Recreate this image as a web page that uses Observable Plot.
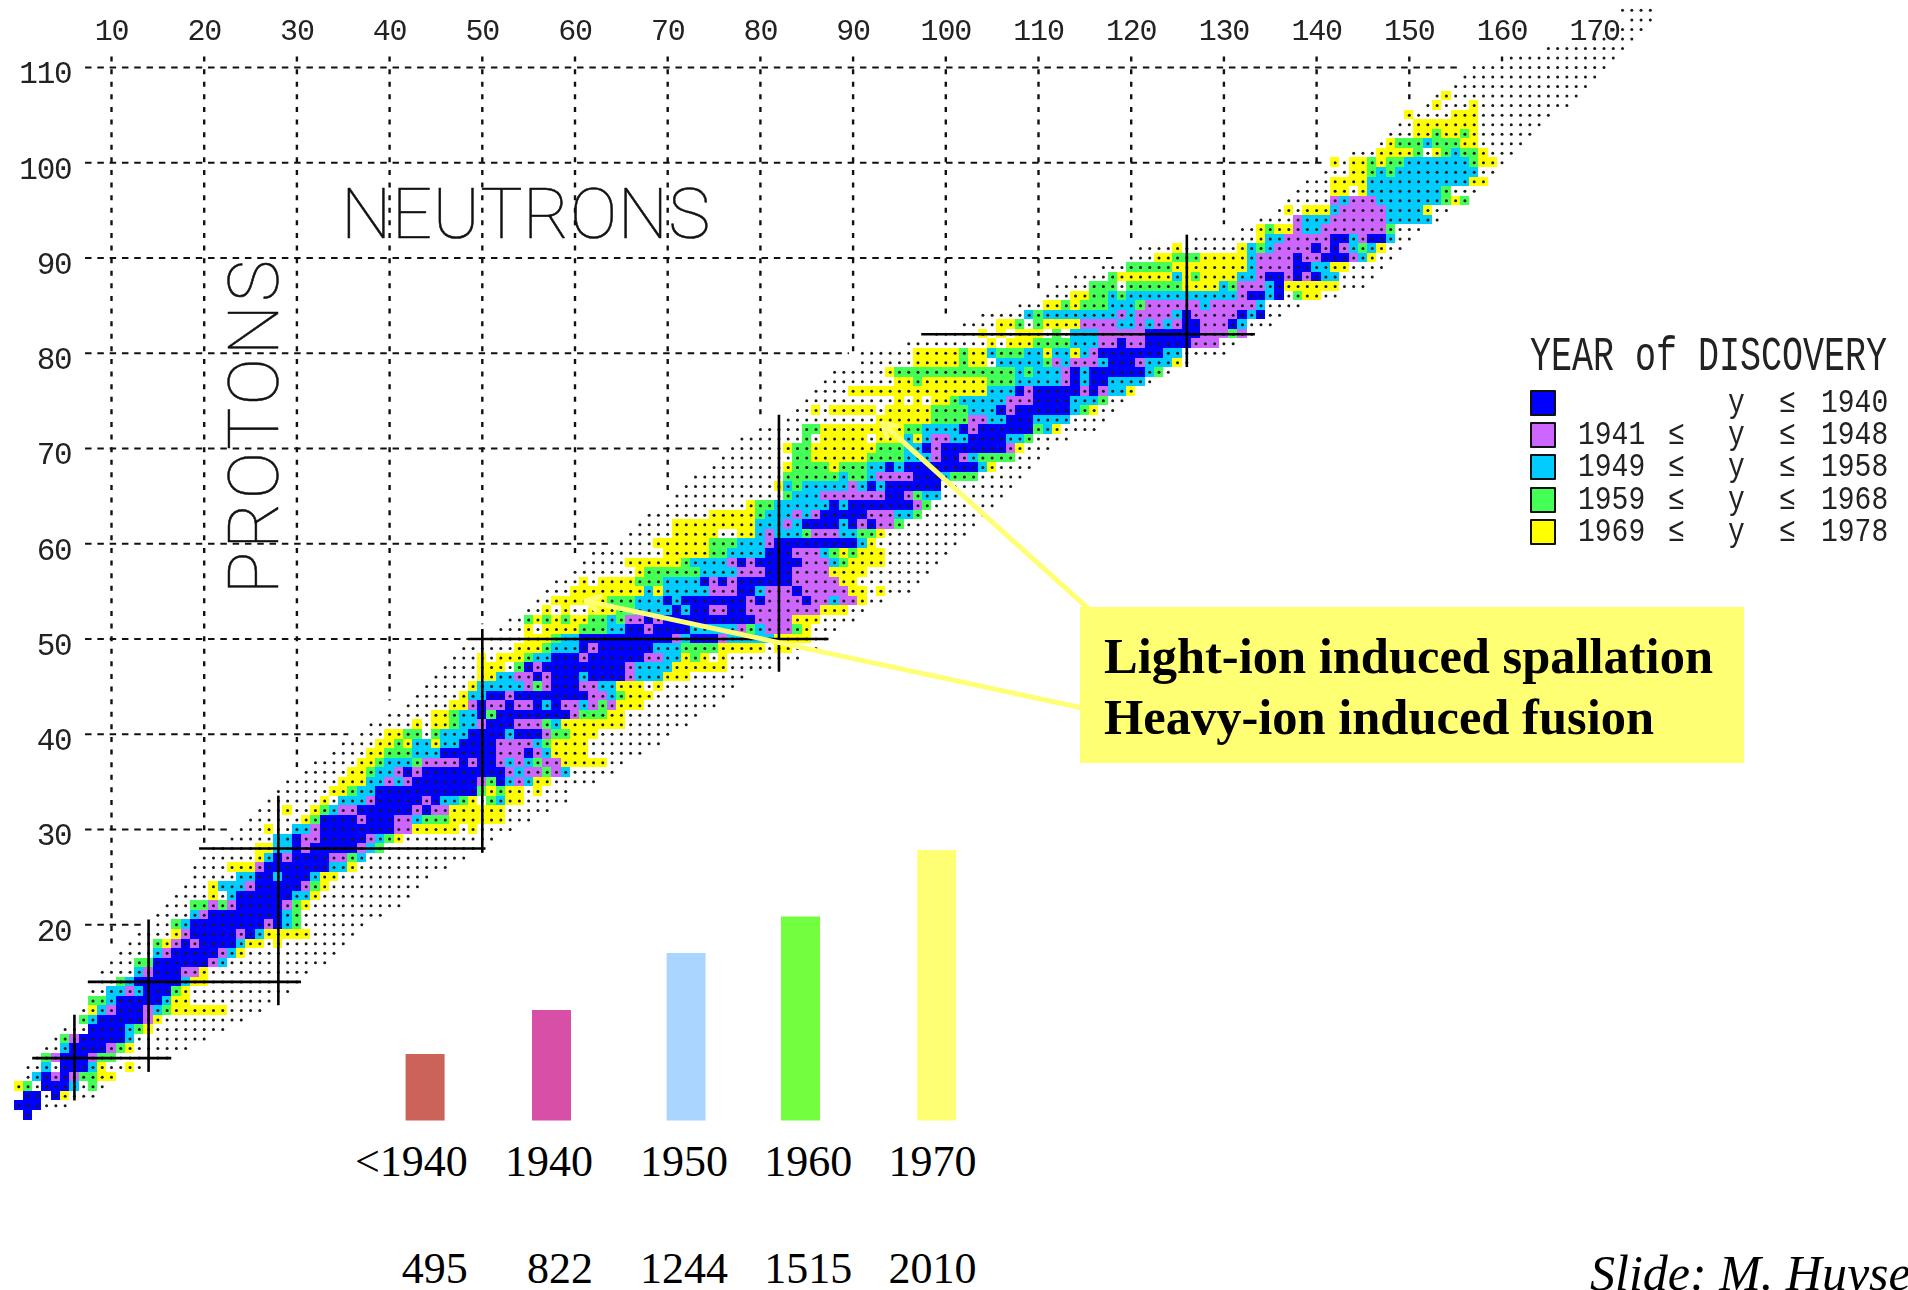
<!DOCTYPE html>
<html><head><meta charset="utf-8">
<script src="https://cdn.jsdelivr.net/npm/d3@7"></script>
<script src="https://cdn.jsdelivr.net/npm/@observablehq/plot@0.6"></script>
<style>
html,body{margin:0;padding:0;background:#fff;width:1908px;height:1290px;overflow:hidden}
#stage{position:relative;width:1908px;height:1290px;overflow:hidden}
.thinN text{letter-spacing:.4px}
.thinP text{letter-spacing:3px}
#legend{position:absolute;left:1530px;top:336px;width:378px;font-family:"Liberation Mono",monospace;color:#222}
#legend .t{font-size:35px;transform:scaleY(1.35);transform-origin:0 50%;height:44px;line-height:44px;white-space:pre;filter:blur(.4px)}
#legend .r{position:absolute;left:0;height:25px;width:358px;font-size:28px;line-height:25px;filter:blur(.4px)}
#legend .s{position:absolute;left:0;top:0;width:22px;height:22px;border:2px solid #111;border-radius:1px}
#legend span{position:absolute;top:0;transform:scaleY(1.2)}
#box{position:absolute;left:1080px;top:607px;width:664px;height:156px;background:#FFFF73;color:#000;font:bold 50.5px "Liberation Serif",serif}
#box div{position:absolute;left:24px;white-space:pre}
#credit{position:absolute;left:1590px;top:1244px;font:italic 50px "Liberation Serif",serif;color:#000;white-space:pre}
</style></head><body><div id="stage"></div>
<script>
// ---- data ----
const xTicks=[10,20,30,40,50,60,70,80,90,100,110,120,130,140,150,160,170];
const yTicks=[20,30,40,50,60,70,80,90,100,110];
const yearClasses=["B","P","C","G","Y"];
const yearColors=["#0000FF","#CC66FF","#00CCFF","#44FF55","#FFFF00"];
const legendFrom=["","1941","1949","1959","1969"];
const legendTo=["1940","1948","1958","1968","1978"];
// first neutron number of each proton row (index = Z)
const rowFirstN=[1,0,1,0,1,1,2,3,4,5,7,7,8,8,9,9,10,11,12,13,15,15,16,17,18,19,19,20,21,23,24,25,26,27,28,29,31,32,34,35,37,38,40,42,43,44,45,46,47,48,50,52,53,55,56,57,58,60,61,62,65,66,67,68,70,71,72,73,75,76,77,78,80,83,84,85,86,87,88,91,91,96,99,102,104,108,111,112,114,117,120,121,127,132,134,136,137,138,139,141,142,144,147,148,149,150,152,153,155,156,157,161,165,170,172,174,173];
// one letter per neutron number: B,P,C,G,Y = discovery class, "." = predicted only
const rowCells=[
"B","BBB...","BB.BY...","YG.BBBC.G.",".CBPBPGGYY","..C.BBBCY..Y.",".GPBBBPGG......","..CBBBBPGY......",".GPBBBBBC........","...BBBBCGY........",
"GCBBBBBPY.........",".YCPBBBPCGYYYYYY....","GGCBBBBBCYY.........","..CCPCBBBGY...........","..GCBBBBBCYY..........","....CPBBBPPY...........","...GGBBBBBBPC...........","....CPBBBBBPCY..........","...GYPBPBBBBCYY.Y.......","....YPBBBBBPBCYYYYY.....",
"..GCBBBBBBBBPBCG.......","....CPBBBBBBBBCG.........","...GGPGPBBBBBPGY..........","....Y.CBBBBBBCCY..........","...YCCCPBBBBBPGY..........",".....CCBBCBBBCYY..........","....YYYPBBBBBBBCCY..........","......YCBPBBBBPPGC...........",".....YYCCBPBBBBBPCG..........",".....CCBPPBBBBBPCGY..........",
"...Y..CCPBBBBBBBBPPYYYYY.Y....","......YGBBBBPBBBPPCGGGYYYYYY...","...Y..YGCPPBBBBBBPBPPYYYYYY.....","......Y.CCCPBBBBBPBCCGY.GCYY.....","......YYGCCBBBBBBBBBBBGYGYY.Y...","......YYYCCPCPBBBBBBBPGBCPCYY.....",".....YYGCCPBPBBBBBBBBBPCPPGPC.....",".....YYGCCCGPPPPBPBBPCPCGPPYYYYY..","....YYGGGCCCBBBBBBPPPBPCYYYY......","....YYGYCCYCCBBBBPPPPCGYYYY........",
"...YYGG.GCCCBBBBCBBBPGGYYY........",".....Y.YYGCCPBBBPPPGCYYYYYYY.......",".....YYGCCBGBBBBBBBBPGGGYY........",".....YYPBPPBPPBCBPPCPGPYYY........",".....YCCBBPBBBBBBBBPPCGYYY........",".....YCCCCCPGPBBBPPCCYYY.Y........",".....YYCCPPBPBBBCBBBBPCCCYYY......","....YYY.GBPBBBBBBBBBPCCCCYYYYYY.....","...Y.YYYGCCBBBPBBBBBBPPCCYGY.Y........","......YYYGCCCBPBBBBBBCCCGGGGYYYYY.YY...",
".....YYYGCCBBBBBBBBBBPCBBBPCCCCCYYYY..","...Y.YYYYGGGCCBBPBBBBCCCCCPGCPPPGY...","..GYGYGYYGGCGPPBPBBBBBBBBBBPPPPYYY....","..Y.Y..YYYGGCCCCBCBBPPBBPPPPPPPPYYY..","..YYYYYYGGGCCCBCBBBBBBBPBPPPPBPPCPPY..","...YYYYYYYYCYCCCCCPPPBBCPPPBPPPPPYY.Y...","...Y.YYYYGGGCCCCBPBPBBBBBBPPPPPYY.......",".......YGGGGGGCCCCPPPBBBPPPPYYYY.......",".....YYYYYYGCCCCPBPBBBBBPPPCGYYYY......","........YYYYYGGCCCCBBBPPPCGYGYYY.......",
"....YYYYYYGGGCCCPBBBBBBBBBCY.........",".....YYYYY..YYCPCCCGPPPCCGGY.........","....YYYYYYYYYCCCPCBBBBCBPBPPG........",".......YYYYYGCCCPCPBBBBBPPPCCG.......",".........YGGCCCCCCBCBBBBBBBPG.......","............GCCCPPPPPPPBBPGCC.......","..........YCGCCCCCPCBCBBBBBB........","..........GGGGGGCGGCPPPPBBBCGGG.....","........YGGGGYGGGCCBCBBBBBBBBCY....","........GGYYYYYYGGGGCCCPBBPCGGGG...",
"......YGGYYYYYYYGGGCCBPBBBBBBBPY...",".......G.YYYYY.YYYCYCPPCCBBBBCCG....",".....GGYYYYYYYYYGGCCCCBPBBBBBBGCY....","..........YYYYYYGGGGPPCCBBBCCCC....","..Y.YYYYY.YYYYYGGGGCCCBPBBBBBBCGY..","..........Y.Y.YYGCCCCCPPPBBBBCCCG..","....YYYYYYYYYYYYYYYCCCBPBBBBBPBPCCY","........YYGYYYYYYYGGGCCCCCPBCBBCCCC.","......YGGGGGGGGGGGGGCGCCCPBCBBBBBBCG.","......YYYYYGYY.CCCCCGPCPPPCBBBPCCCY.",
"......YYYYYGYYCGGGCCYCCYCPBBBBBBBCC.....",".........Y.YYYGGGGCCCPPBPPBBBBBPPP..",".....Y.Y.YYY.G.CCCPPPPPBBBBBBPPPGP.","....YYG.GYYYYPPPPCCPCPCPBBPPPBC...",".....CGCCCCCCCCPCPPPPCBPPPPPBCB..","...YYGYGGGCCCGPPPPPPCPPPPPC....","...YYGGCGCCCCCCCCCCCCPBBCB.GYY..","....GGG.GGGGGGYYYYCGPPPCBYYYYYY...","....GYYYYYYCYGYYYYCCPBBPBPBCC....","...GGGGGYYYYYYYYCPPPPBBCCYY....",
"...YYGGGYYYYYCPPPPBPPBBBPCY..","....Y......YCGCPPPPBPBPCGCY..",".......YCCPPPPPBBCPBBC..","..YGYYPCCPPPPPPPG...","....PCCCPPPPPPCCCCC.",".Y.YYYCPPPPPCCCCY..",".....PCPPPCCCCCCCGYG","....YY.YCCCCCCCCG...","...YYYYCCCCCCCCCCCYY","...YYGCGCCCCCCCCC..",
"Y.YYGYGGCCCCCCCGYY.","...YYYYG.YGCGGY...",".YGGGCGGGYY.....","...YYGYYGY......","..YYYYYYY.......","Y....YYY........",".Y...Y..........",".Y..............","...............","...............","...............","............",".........",".....","....","...","...."
];
// closed-shell lines as drawn: [number, from, to]
const magicZ=[[6,1.5,16.5],[14,7.5,30.5],[28,19.5,50.4],[50,48.5,87.4],[82,97.4,133.4]];
const magicN=[[6,1.5,10.5],[14,4.5,20.5],[28,11.5,33.5],[50,27.5,51],[82,46.5,73.5],[126,78.5,92.4]];
const binLabels=["<1940","1940","1950","1960","1970"];
const binCounts=[495,822,1244,1515,2010];
const binColors=["#CC6359","#D84FA8","#AAD5FF","#73FF3F","#FFFF73"];
const calloutLines=["Light-ion induced spallation","Heavy-ion induced fusion"];
// leader arrows [fromN, fromZ, toN, toZ]
const leaders=[[115.6,53,93.15,72.66],[115,42.7,61.15,54]];

// ---- derived tables ----
const cells=rowCells.flatMap((s,Z)=>Array.from(s,(c,k)=>({Z,N:rowFirstN[Z]+k,c})));
const colored=cells.filter(d=>d.c!==".");
const topZ=N=>d3.max(rowFirstN.map((s,Z)=>s<=N&&Z<=110?Z:-1));
const gridV=xTicks.filter(n=>n<=160).map(N=>({N,end:Math.min(topZ(N)+1.5,110.6)}));
const gridH=yTicks.map(Z=>({Z,end:rowFirstN[Z]-1.4}));
const stage=document.getElementById("stage");

// ---- main chart ----
const main=Plot.plot({
  width:1908,height:1290,margin:0,marginTop:42,marginLeft:72,
  style:{position:"absolute",left:0,top:0,background:"transparent",filter:"blur(.45px)",fontFamily:"Liberation Mono, monospace",letterSpacing:"-1.2px",color:"#222"},
  x:{domain:[5.793,203.85],range:[72,1908]},
  y:{domain:[-18.4,112.625],range:[1290,42]},
  color:{domain:yearClasses,range:yearColors},
  marks:[
    Plot.rect(colored,{x1:d=>d.N-.5,x2:d=>d.N+.5,y1:d=>d.Z-.5,y2:d=>d.Z+.5,fill:"c",shapeRendering:"crispEdges"}),
    Plot.dot(cells,{x:"N",y:"Z",r:1.5,fill:"#1a1a1a"}),
    Plot.ruleX(gridV,{x:"N",y1:()=>111.1,y2:"end",stroke:"#111",strokeWidth:2.4,strokeDasharray:"5 7.6"}),
    Plot.ruleY(gridH,{y:"Z",x1:()=>7.2,x2:"end",stroke:"#111",strokeWidth:2.2,strokeDasharray:"6.5 5.8"}),
    Plot.ruleY(magicZ,{y:d=>d[0],x1:d=>d[1],x2:d=>d[2],stroke:"#000",strokeWidth:2.6}),
    Plot.ruleX(magicN,{x:d=>d[0],y1:d=>d[1],y2:d=>d[2],stroke:"#000",strokeWidth:2.6}),
    Plot.axisX(xTicks,{anchor:"top",tickSize:0,tickPadding:3,fontSize:30,label:null,tickFormat:d=>d}),
    Plot.axisY(yTicks,{anchor:"left",tickSize:0,tickPadding:1,dy:6,fontSize:31,label:null,tickFormat:d=>d}),
    Plot.text(["NEUTRONS"],{x:()=>54.7,y:()=>94.46,className:"thinN",fontFamily:"Roboto",fontWeight:100,fontSize:71,fill:"#111",stroke:"#111",strokeWidth:.5}),
    Plot.text(["PROTONS"],{x:()=>25.5,y:()=>72.4,rotate:-90,className:"thinP",fontFamily:"Roboto",fontWeight:100,fontSize:71,fill:"#111",stroke:"#111",strokeWidth:.5}),
    Plot.arrow(leaders,{x1:d=>d[0],y1:d=>d[1],x2:d=>d[2],y2:d=>d[3],stroke:"#FFFF73",strokeWidth:5,headLength:4.5,bend:0})
  ]
});
stage.append(main);

// ---- discovery bars ----
const barTable=binLabels.map((bin,i)=>({i,bin,count:binCounts[i]}));
const slotBreaks=[.5,1.5,2.5,3.5];
stage.append(Plot.plot({
  width:1908,height:1290,margin:0,
  style:{position:"absolute",left:0,top:0,background:"transparent"},
  x:{axis:null,type:"threshold",domain:slotBreaks,range:[424.6,551,685.6,800,936.2]},
  y:{axis:null,domain:[0,2010],range:[1120.5,850]},
  color:{domain:binLabels,range:binColors},
  marks:[Plot.ruleX(barTable,{x:"i",y1:()=>0,y2:"count",stroke:"bin",strokeWidth:39})]
}));
stage.append(Plot.plot({
  width:1908,height:1290,margin:0,
  style:{position:"absolute",left:0,top:0,background:"transparent",fontFamily:"Liberation Serif, serif"},
  x:{axis:null,type:"threshold",domain:slotBreaks,range:[467.3,592.6,727.6,851.8,975.9]},
  y:{axis:null,type:"point",padding:0,domain:["year","count"],range:[1161,1268]},
  marks:[
    Plot.text(barTable,{x:"i",y:()=>"year",text:"bin",textAnchor:"end",fontSize:44,fill:"#000"}),
    Plot.text(barTable,{x:"i",y:()=>"count",text:d=>String(d.count),textAnchor:"end",fontSize:44,fill:"#000"})
  ]
}));

// ---- legend, callout, credit ----
const lg=document.createElement("div");lg.id="legend";
lg.innerHTML='<div class="t">YEAR of DISCOVERY</div>';
yearClasses.forEach((k,i)=>{
  const r=document.createElement("div");r.className="r";r.style.top=(54+i*32.2)+"px";
  r.innerHTML=`<div class="s" style="background:${yearColors[i]}"></div>`+
   (legendFrom[i]?`<span style="left:48px">${legendFrom[i]}</span><span style="left:138px">≤</span>`:"")+
   `<span style="left:198px">y</span><span style="left:249px">≤</span><span style="left:291px">${legendTo[i]}</span>`;
  lg.append(r);
});
stage.append(lg);
const box=document.createElement("div");box.id="box";
calloutLines.forEach((t,i)=>{const d=document.createElement("div");d.textContent=t;d.style.top=(20+i*61)+"px";box.append(d);});
stage.append(box);
const cr=document.createElement("div");cr.id="credit";cr.textContent="Slide: M. Huyse";stage.append(cr);
</script></body></html>
